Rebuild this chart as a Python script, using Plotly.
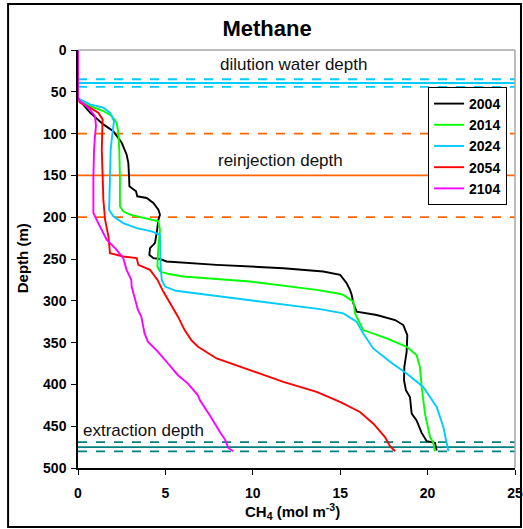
import plotly.graph_objects as go

years = ["2004", "2014", "2024", "2054", "2104"]
colors = ["#000000", "#00ff00", "#00ccff", "#ff0000", "#ff00ff"]

depth_2004 = [0, 58, 75, 89, 97, 111, 125, 135, 151, 163, 165, 169, 175, 177, 183, 191, 197, 203, 219, 231, 237, 245, 249, 250, 253, 257, 261, 265, 269, 279, 287, 293, 303, 313, 317, 323, 329, 341, 361, 379, 395, 407, 415, 435, 443, 458, 468, 470, 479]
ch4_2004 = [0, 0, 0.69, 1.45, 2.02, 2.5, 2.78, 2.88, 2.92, 2.94, 3.07, 3.32, 3.39, 3.93, 4.31, 4.6, 4.69, 4.6, 4.5, 4.4, 4.12, 4.08, 4.31, 4.69, 5.07, 7.93, 11.75, 14.03, 15.0, 15.37, 15.56, 15.66, 15.75, 15.94, 17.09, 18.14, 18.61, 18.84, 18.8, 18.67, 18.65, 18.76, 18.99, 19.09, 19.37, 19.66, 19.95, 20.42, 20.52]

depth_2014 = [0, 59, 61, 67, 73, 79, 87, 99, 119, 151, 187, 193, 197, 201, 205, 215, 235, 259, 265, 268, 271, 277, 287, 291, 293, 301, 315, 335, 345, 355, 365, 379, 403, 435, 463, 470, 480]
ch4_2014 = [0, 0, 0.11, 0.69, 1.45, 1.93, 2.21, 2.31, 2.36, 2.4, 2.4, 2.59, 2.97, 3.74, 4.6, 4.69, 4.6, 4.54, 4.69, 5.2, 6.02, 9.84, 13.65, 14.8, 15.18, 15.75, 15.85, 16.32, 17.66, 18.8, 19.37, 19.56, 19.66, 19.85, 20.14, 20.33, 20.42]

depth_2024 = [0, 57, 59, 65, 69, 75, 85, 95, 107, 119, 151, 191, 199, 207, 213, 217, 221, 235, 259, 275, 283, 288, 299, 310, 315, 325, 339, 357, 373, 387, 403, 427, 451, 480]
ch4_2024 = [0, 0, 0.11, 0.69, 1.45, 1.83, 2.06, 2.02, 1.93, 1.87, 1.83, 1.78, 2.02, 2.59, 3.36, 4.21, 4.69, 4.69, 4.73, 4.79, 4.98, 5.6, 9.84, 13.84, 15.18, 15.94, 16.32, 16.89, 17.85, 18.8, 19.75, 20.52, 20.9, 21.19]

depth_2054 = [0, 58, 63, 69, 75, 83, 95, 119, 151, 179, 203, 223, 243, 247, 249, 257, 263, 275, 289, 297, 303, 319, 335, 347, 355, 363, 369, 383, 397, 409, 421, 433, 447, 463, 470, 474, 480]
ch4_2054 = [0, 0, 0.11, 0.69, 1.16, 1.41, 1.39, 1.36, 1.41, 1.45, 1.55, 1.74, 1.83, 2.59, 3.36, 3.45, 4.12, 4.55, 4.88, 5.1, 5.24, 5.72, 6.1, 6.48, 6.87, 7.44, 7.93, 9.84, 11.75, 13.65, 14.99, 16.13, 16.9, 17.56, 17.75, 17.85, 18.14]

depth_2104 = [0, 59, 61, 69, 79, 91, 103, 119, 151, 195, 207, 227, 239, 249, 263, 275, 283, 295, 311, 319, 339, 349, 361, 375, 389, 399, 413, 419, 433, 439, 457, 466, 476, 480]
ch4_2104 = [0, 0, 0.11, 0.59, 0.97, 1.03, 0.97, 0.92, 0.88, 0.88, 1.16, 1.64, 2.21, 2.59, 2.78, 3.05, 3.07, 3.24, 3.43, 3.62, 3.81, 4.0, 4.58, 5.15, 5.72, 6.29, 6.86, 6.98, 7.44, 7.6, 8.12, 8.41, 8.6, 8.88]

depths = [depth_2004, depth_2014, depth_2024, depth_2054, depth_2104]
concs = [ch4_2004, ch4_2014, ch4_2024, ch4_2054, ch4_2104]

# reference depth lines: (depth, color, dash)
ref_depths = [35, 39.5, 44, 100, 150, 200, 469, 475, 480]
ref_colors = ["#00ccff", "#00ccff", "#00ccff", "#ff6600", "#ff6600", "#ff6600", "#008080", "#008080", "#008080"]
ref_dashes = ["dash", "solid", "dash", "dash", "solid", "dash", "dash", "solid", "dash"]

labels = ["dilution water depth", "reinjection depth", "extraction depth"]
label_x = [12.3, 11.6, 0.15]
label_y = [17, 132, 455]

x_ticks = [0, 5, 10, 15, 20, 25]
y_ticks = [0, 50, 100, 150, 200, 250, 300, 350, 400, 450, 500]

FONT = "Liberation Sans, Arial, sans-serif"

fig = go.Figure()
for yr, c, d, x in zip(years, colors, depths, concs):
    fig.add_trace(go.Scatter(x=x, y=d, mode="lines", name=yr,
                             line=dict(color=c, width=1.9)))

shapes = []
for d, c, ds in zip(ref_depths, ref_colors, ref_dashes):
    shapes.append(dict(type="line", xref="x", yref="y", x0=0, x1=25, y0=d, y1=d,
                       line=dict(color=c, width=1.8, dash=ds), layer="below"))
# gray top/right frame
shapes.append(dict(type="line", xref="paper", yref="paper", x0=0, x1=1, y0=1, y1=1,
                   line=dict(color="#a6a6a6", width=1.5)))
shapes.append(dict(type="line", xref="paper", yref="paper", x0=1, x1=1, y0=0, y1=1,
                   line=dict(color="#a6a6a6", width=1.5)))
# outer chart border
shapes.append(dict(type="rect", xref="paper", yref="paper", x0=-0.160, x1=1.0137, y0=-0.141, y1=1.110,
                   line=dict(color="#000000", width=2)))

annotations = []
for t, ax_, ay_ in zip(labels, label_x, label_y):
    annotations.append(dict(text=t, x=ax_, y=ay_, xref="x", yref="y", showarrow=False,
                            xanchor="left" if t.startswith("extraction") else "center",
                            font=dict(family=FONT, size=17, color="#111111")))
annotations.append(dict(text="<b>Depth (m)</b>", x=-0.128, y=0.502, xref="paper", yref="paper",
                        showarrow=False, textangle=-90, xanchor="center", yanchor="middle",
                        font=dict(family=FONT, size=15, color="black")))
annotations.append(dict(text="<b>CH<sub>4</sub> (mol m<sup>-3</sup>)</b>", x=0.49, y=-0.105,
                        xref="paper", yref="paper", showarrow=False, xanchor="center", yanchor="middle",
                        font=dict(family=FONT, size=15, color="black")))

fig.update_layout(
    width=523, height=529,
    margin=dict(l=78, r=8, t=50, b=61),
    paper_bgcolor="white", plot_bgcolor="white",
    title=dict(text="<b>Methane</b>", x=0.4325, xref="paper", xanchor="center",
               y=1 - 28 / 529, yref="container", yanchor="middle",
               font=dict(family=FONT, size=22, color="black")),
    showlegend=True,
    legend=dict(x=0.801, y=0.9115, xanchor="left", yanchor="top",
                bordercolor="black", borderwidth=1, bgcolor="white",
                font=dict(family=FONT, size=14, color="black", weight="bold"),
                tracegroupgap=0, itemwidth=30),
    shapes=shapes, annotations=annotations,
    xaxis=dict(range=[0, 25], tickvals=x_ticks, showgrid=False, zeroline=False,
               showline=True, linecolor="black", linewidth=1.5, automargin=False,
               ticks="outside", ticklen=5, tickcolor="black", ticklabelstandoff=6,
               tickfont=dict(family=FONT, size=14, color="black", weight="bold")),
    yaxis=dict(range=[500, 0], tickvals=y_ticks, showgrid=False, zeroline=False,
               showline=True, linecolor="black", linewidth=1.5, automargin=False,
               ticks="outside", ticklen=5, tickcolor="black", ticklabelstandoff=2,
               tickfont=dict(family=FONT, size=14, color="black", weight="bold")),
)

fig.write_html("out.html", config={"displayModeBar": False},
               post_script="document.body.style.margin='0';document.body.style.overflow='hidden';")
